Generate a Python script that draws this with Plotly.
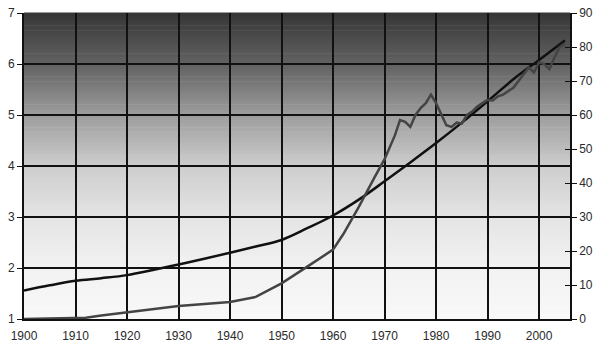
import plotly.graph_objects as go

# World population (billions, left axis)
pop_years = [1900, 1905, 1910, 1915, 1920, 1925, 1930, 1935, 1940, 1945, 1950, 1955,
             1960, 1965, 1970, 1975, 1980, 1985, 1990, 1995, 2000, 2005]
pop_vals = [1.56, 1.66, 1.75, 1.80, 1.86, 1.96, 2.07, 2.18, 2.30, 2.42, 2.55, 2.78,
            3.03, 3.34, 3.70, 4.07, 4.45, 4.85, 5.27, 5.70, 6.08, 6.46]

# Oil production (million barrels/day, right axis)
oil_years = [1900, 1905, 1910, 1912, 1915, 1920, 1925, 1930, 1935, 1940, 1945, 1950,
             1955, 1960, 1962, 1965, 1968, 1970, 1972, 1973, 1974, 1975, 1976, 1977,
             1978, 1979, 1980, 1981, 1982, 1983, 1984, 1985, 1986, 1987, 1988, 1989,
             1990, 1991, 1992, 1993, 1994, 1995, 1996, 1997, 1998, 1999, 2000, 2001,
             2002, 2003, 2004, 2005]
oil_vals = [0.0, 0.1, 0.2, 0.4, 1.0, 1.9, 2.9, 3.8, 4.4, 5.0, 6.5, 10.5,
            15.4, 20.4, 25.0, 33.0, 41.5, 47.0, 54.0, 58.5, 58.0, 56.5, 60.0, 62.0,
            63.5, 66.0, 63.5, 60.0, 57.0, 56.5, 57.8, 57.5, 60.0, 61.0, 62.5, 63.5,
            64.5, 64.3, 65.5, 66.0, 67.0, 68.0, 70.0, 72.0, 74.0, 72.5, 75.5, 75.0,
            73.5, 77.0, 80.0, 81.0]

x_ticks = [1900, 1910, 1920, 1930, 1940, 1950, 1960, 1970, 1980, 1990, 2000]

fig = go.Figure()
fig.add_trace(go.Scatter(x=oil_years, y=oil_vals, yaxis="y2", mode="lines",
                         line=dict(color="#444444", width=2.5), showlegend=False))
fig.add_trace(go.Scatter(x=pop_years, y=pop_vals, yaxis="y", mode="lines",
                         line=dict(color="#111111", width=2.5, shape="spline"),
                         showlegend=False))

# vertical gradient background
anchors = [(0.0, 248), (1/6, 242), (2/6, 228), (3/6, 205), (4/6, 157), (5/6, 98), (1.0, 54)]

def gray(t):
    for (t0, g0), (t1, g1) in zip(anchors[:-1], anchors[1:]):
        if t0 <= t <= t1:
            return g0 + (g1 - g0) * (t - t0) / (t1 - t0)
    return anchors[-1][1]

n = 120
shapes = []
for i in range(n):
    y0 = i / n
    y1 = (i + 1) / n
    g = int(round(gray((y0 + y1) / 2)))
    shapes.append(dict(type="rect", xref="paper", yref="paper", x0=0, x1=1,
                       y0=y0, y1=y1 + 0.002, fillcolor=f"rgb({g},{g},{g})",
                       line=dict(width=0), layer="below"))

font = dict(family="Liberation Sans, Arial, sans-serif", size=12, color="#2a2a2a")

fig.update_layout(
    width=600, height=352,
    margin=dict(l=24, r=30, t=13, b=33),
    paper_bgcolor="white", plot_bgcolor="white",
    shapes=shapes,
    font=font,
    xaxis=dict(range=[1900, 2006], tickvals=x_ticks, showgrid=True,
               gridcolor="#111111", gridwidth=2, showline=True, linecolor="#111111",
               linewidth=2, ticks="", zeroline=False, tickfont=font,
               ticklabelstandoff=5, automargin=False),
    yaxis=dict(range=[1, 7], dtick=1, showgrid=True, gridcolor="#111111", gridwidth=2,
               showline=True, linecolor="#111111", linewidth=2, ticks="outside",
               ticklen=5, tickcolor="#111111", zeroline=False, tickfont=font,
               automargin=False),
    yaxis2=dict(range=[0, 90], dtick=10, overlaying="y", side="right", showgrid=False,
                showline=True, linecolor="#111111", linewidth=1.5, ticks="outside",
                ticklen=5, tickcolor="#111111", zeroline=False, tickfont=font,
                automargin=False),
    yaxis3=dict(range=[0, 90], dtick=10, overlaying="y", side="right", showgrid=False,
                showline=False, ticks="inside", ticklen=5, tickcolor="#111111",
                showticklabels=False, zeroline=False, automargin=False),
)
# dummy trace to activate yaxis3
fig.add_trace(go.Scatter(x=[None], y=[None], yaxis="y3", showlegend=False))

fig.write_html("out.html")
